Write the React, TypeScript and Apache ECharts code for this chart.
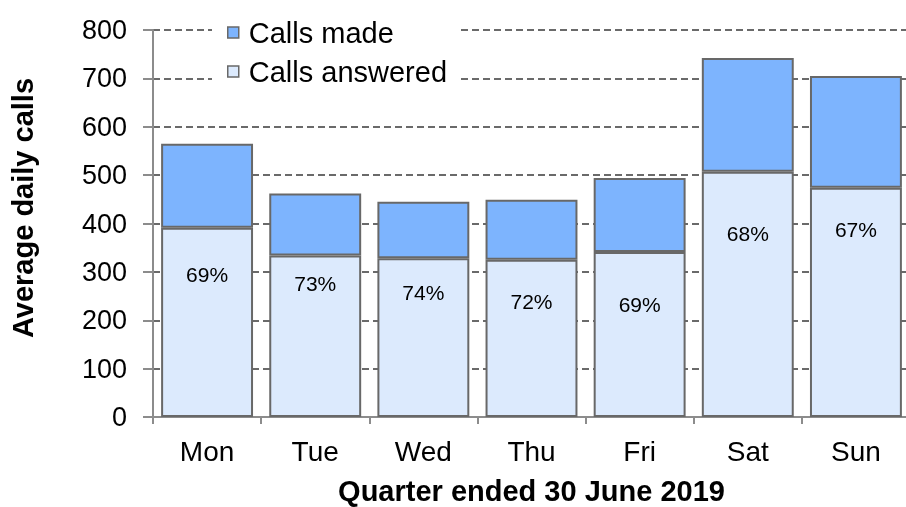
import React, { useEffect, useRef } from "react";
import * as echarts from "echarts";

const days = ["Mon", "Tue", "Wed", "Thu", "Fri", "Sat", "Sun"];
const callsMade = [565, 462, 445, 449, 494, 742, 705];
const callsAnswered = [391, 334, 328, 325, 341, 507, 474];
const answeredPct = ["69%", "73%", "74%", "72%", "69%", "68%", "67%"];
const pctLabelLevel = [295, 277, 257, 239, 233, 380, 387];

export default function App() {
  const ref = useRef<HTMLDivElement>(null);
  useEffect(() => {
    if (!ref.current) return;
    const chart = echarts.init(ref.current, undefined, { renderer: "svg" });
    const font = "Liberation Sans, Arial, sans-serif";
    const border = "#686868";
    chart.setOption({
      animation: false,
      textStyle: { fontFamily: font },
      grid: { left: 153, right: -4, top: 30, bottom: 90, outerBoundsMode: "none", containLabel: false },
      legend: {
        orient: "vertical",
        left: 212,
        top: 12,
        padding: [6, 14, 6, 15],
        backgroundColor: "#ffffff",
        itemWidth: 11,
        itemHeight: 11,
        itemGap: 10,
        icon: "rect",
        itemStyle: { borderWidth: 1.5, borderColor: border },
        textStyle: { fontSize: 29, color: "#000", fontFamily: font, lineHeight: 28, padding: [0, 0, 0, 5] },
        data: ["Calls made", "Calls answered"],
      },
      xAxis: {
        type: "category",
        data: days,
        name: "Quarter ended 30 June 2019",
        nameLocation: "middle",
        nameGap: 59,
        nameTextStyle: { fontSize: 29, fontWeight: "bold", color: "#000", fontFamily: font },
        axisLine: { show: true, lineStyle: { color: "#8c8c8c", width: 2 } },
        axisTick: { show: true, length: 7, lineStyle: { color: "#8c8c8c", width: 2 } },
        axisLabel: { fontSize: 28, color: "#000", margin: 20, fontFamily: font },
      },
      yAxis: {
        type: "value",
        min: 0,
        max: 800,
        interval: 100,
        axisLine: { show: true, lineStyle: { color: "#8c8c8c", width: 2 } },
        axisTick: { show: true, length: 10, lineStyle: { color: "#8c8c8c", width: 2 } },
        axisLabel: { fontSize: 27, color: "#000", margin: 26, fontFamily: font },
        splitLine: { show: true, lineStyle: { color: "#6a6a6a", width: 2, type: [7, 4] } },
      },
      graphic: [
        {
          type: "text",
          x: 23,
          y: 208,
          rotation: Math.PI / 2,
          style: {
            text: "Average daily calls",
            fontSize: 29,
            fontWeight: "bold",
            fontFamily: font,
            fill: "#000",
            align: "center",
            verticalAlign: "middle",
          },
        },
      ],
      series: [
        {
          name: "Calls answered",
          type: "bar",
          stack: "calls",
          barCategoryGap: "15%",
          data: callsAnswered,
          itemStyle: { color: "#dceafd", borderColor: border, borderWidth: 2 },
        },
        {
          name: "Calls made",
          type: "bar",
          stack: "calls",
          barCategoryGap: "15%",
          data: callsMade.map((v, i) => v - callsAnswered[i]),
          itemStyle: { color: "#7db4fe", borderColor: border, borderWidth: 2 },
        },
        {
          name: "pct",
          type: "scatter",
          symbolSize: 0,
          data: pctLabelLevel,
          z: 5,
          label: {
            show: true,
            position: "inside",
            fontSize: 21,
            color: "#000",
            opacity: 1,
            fontFamily: font,
            formatter: (p: any) => answeredPct[p.dataIndex],
          },
        },
      ],
    });
    return () => chart.dispose();
  }, []);
  return <div ref={ref} style={{ position: "fixed", left: 0, top: 0, width: 906, height: 507 }} />;
}
